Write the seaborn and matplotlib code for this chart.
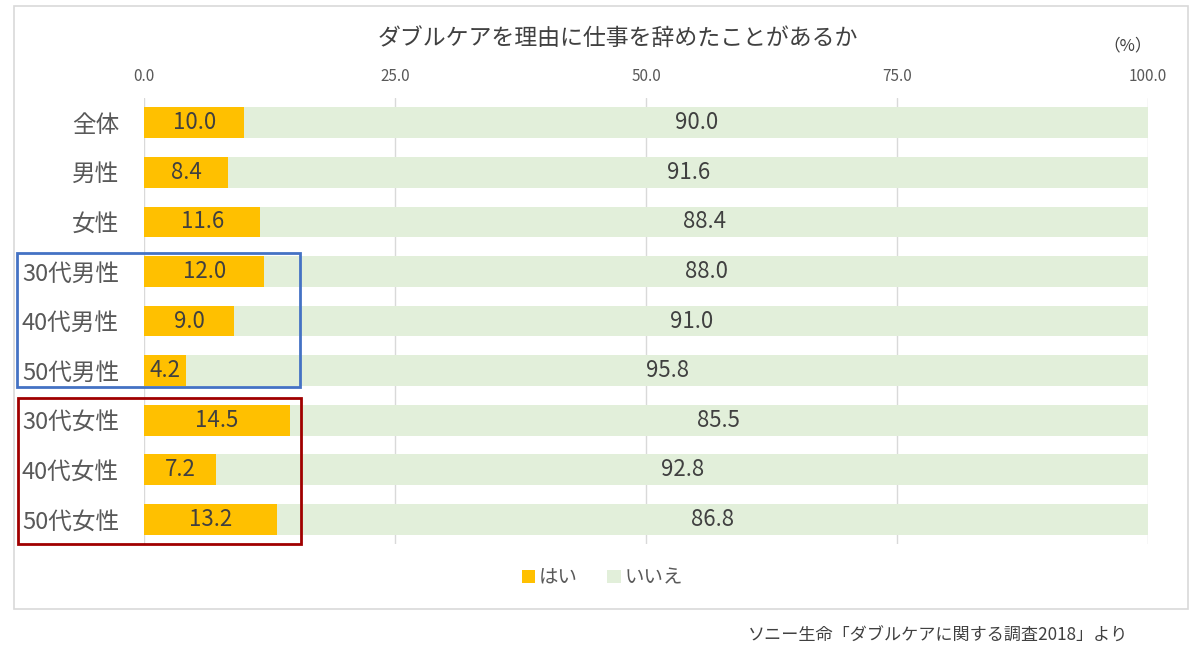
import matplotlib
matplotlib.use("Agg")
import matplotlib.pyplot as plt
import seaborn as sns
import pandas as pd
from matplotlib.patches import Rectangle, Patch
from matplotlib.transforms import blended_transform_factory

categories = ["全体", "男性", "女性", "30代男性", "40代男性", "50代男性",
              "30代女性", "40代女性", "50代女性"]
yes_vals = [10.0, 8.4, 11.6, 12.0, 9.0, 4.2, 14.5, 7.2, 13.2]
no_vals = [90.0, 91.6, 88.4, 88.0, 91.0, 95.8, 85.5, 92.8, 86.8]
x_ticks = [0, 25, 50, 75, 100]
series_names = ["はい", "いいえ"]

YELLOW = "#FFC000"
GREEN = "#E2EFDA"
TEXT = "#595959"
DARK = "#404040"

sns.set_theme(style="white")
plt.rcParams['font.family'] = ['Noto Sans CJK JP', 'DejaVu Sans']

df = pd.DataFrame({"cat": categories, "yes": yes_vals, "no": no_vals})
df["total"] = df["yes"] + df["no"]

fig = plt.figure(figsize=(12, 6.62), dpi=100)
ax = fig.add_axes([0.12, 0.178, 0.8367, 0.674])

sns.barplot(data=df, x="total", y="cat", color=GREEN, orient="h", width=0.62,
            saturation=1, ax=ax, zorder=2, linewidth=0)
sns.barplot(data=df, x="yes", y="cat", color=YELLOW, orient="h", width=0.62,
            saturation=1, ax=ax, zorder=3, linewidth=0)

for i, (y, n) in enumerate(zip(yes_vals, no_vals)):
    ax.text(y / 2, i, f"{y:.1f}", ha="center", va="center", fontsize=16, color=DARK, zorder=5)
    ax.text(y + n / 2, i, f"{n:.1f}", ha="center", va="center", fontsize=16, color=DARK, zorder=5)

ax.set_xlim(0, 100)
ax.set_ylim(len(categories) - 0.5, -0.5)
ax.set_xticks(x_ticks)
ax.set_xticklabels([f"{t:.1f}" for t in x_ticks])
ax.xaxis.tick_top()
ax.tick_params(axis="x", length=0, labelsize=11, labelcolor=TEXT, pad=9)
ax.tick_params(axis="y", length=0, labelsize=17, labelcolor=TEXT, pad=18)
ax.set_xlabel("")
ax.set_ylabel("")
ax.grid(axis="x", color="#D9D9D9", linewidth=1, zorder=0)
ax.set_axisbelow(True)
for s in ax.spines.values():
    s.set_visible(False)

# group boxes
tr = blended_transform_factory(fig.transFigure, ax.transData)
blue = Rectangle((0.014, 5.33), 0.236, -2.7, transform=tr, fill=False,
                 edgecolor="#4472C4", linewidth=2, clip_on=False, zorder=6)
red = Rectangle((0.015, 8.5), 0.236, -2.95, transform=tr, fill=False,
                edgecolor="#A00000", linewidth=2, clip_on=False, zorder=6)
ax.add_patch(blue)
ax.add_patch(red)

# outer frame
fig.patches.append(Rectangle((0.012, 0.080), 0.978, 0.911, transform=fig.transFigure,
                             fill=False, edgecolor="#D9D9D9", linewidth=1.2))

fig.text(0.515, 0.940, "ダブルケアを理由に仕事を辞めたことがあるか", ha="center", va="center",
         fontsize=16.5, color=DARK)
fig.text(0.94, 0.930, "（%）", ha="center", va="center", fontsize=12, color=DARK)
fig.text(0.782, 0.040, "ソニー生命「ダブルケアに関する調査2018」より", ha="center", va="center",
         fontsize=12.3, color=DARK)

handles = [Patch(facecolor=YELLOW, edgecolor="none"), Patch(facecolor=GREEN, edgecolor="none")]
fig.legend(handles, series_names, loc="center", bbox_to_anchor=(0.502, 0.127), ncol=2,
           frameon=False, fontsize=14, handlelength=0.7, handleheight=0.7,
           handletextpad=0.2, columnspacing=1.5, labelcolor=TEXT)

fig.savefig("out.png", dpi=100)
